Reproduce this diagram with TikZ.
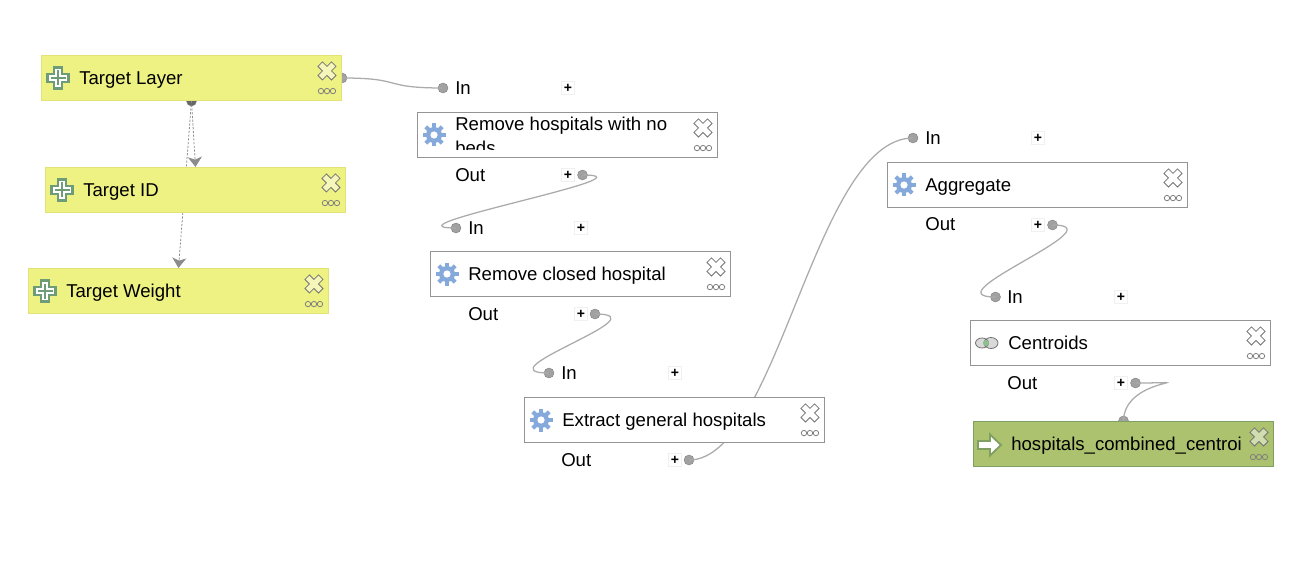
\documentclass[tikz,border=0pt]{standalone}
\usepackage{fontspec}
\setmainfont{Liberation Sans}
\usetikzlibrary{shapes, arrows.meta, calc, positioning, backgrounds}
\definecolor{inputfill}{HTML}{EEF283}
\definecolor{inputline}{HTML}{E2E276}
\definecolor{outputfill}{HTML}{ACC26E}
\definecolor{outputline}{HTML}{7FA062}
\definecolor{wirecol}{HTML}{ABABAB}
\definecolor{gearcol}{HTML}{86A9DC}
\definecolor{pluscol}{HTML}{6E9B78}
\tikzstyle{basebox} = [rectangle, draw, minimum width=225pt, minimum height=33.9pt, line width=0.7pt]
\tikzstyle{algbox} = [basebox, draw=black!42, fill=white]
\tikzstyle{inputbox} = [basebox, draw=inputline, fill=inputfill]
\tikzstyle{outputbox} = [basebox, draw=outputline, fill=outputfill]
\tikzstyle{boxtext} = [inner sep=0pt, font=\fontsize{13.95pt}{18pt}\selectfont, text height=10pt, text depth=0pt]
\tikzstyle{porttext} = [boxtext, anchor=west]
\tikzstyle{portdot} = [circle, draw=black!50, fill=black!37, inner sep=0pt, minimum size=7.5pt, line width=0.3pt]
\tikzstyle{portplus} = [rectangle, draw=black!6, fill=white, inner sep=0pt, minimum size=9.5pt, font=\bfseries\fontsize{10.5pt}{10pt}\selectfont]
\tikzstyle{wire} = [draw=wirecol, line width=0.95pt]
\tikzstyle{depwire} = [draw=black!45, dashed, dash pattern=on 1.6pt off 1.2pt, line width=0.6pt, -{Stealth[length=7.5pt,width=10.5pt,inset=2pt,fill=black!45]}]
\tikzset{
  delmark/.pic={\draw[draw=black!55, fill=white, fill opacity=0.45, line width=0.6pt, rotate=45] (-3.2,-9.6) -- (3.2,-9.6) -- (3.2,-3.2) -- (9.6,-3.2) -- (9.6,3.2) -- (3.2,3.2) -- (3.2,9.6) -- (-3.2,9.6) -- (-3.2,3.2) -- (-9.6,3.2) -- (-9.6,-3.2) -- (-3.2,-3.2) -- cycle;},
  moremark/.pic={\foreach \dx in {-6,0,6} \draw[draw=black!50, line width=0.6pt] (\dx,0) circle (2.7);},
  plusmark/.pic={\draw[draw=pluscol, fill=white, line width=1.6pt] (-3.8,-10.5) -- (3.8,-10.5) -- (3.8,-3.8) -- (10.5,-3.8) -- (10.5,3.8) -- (3.8,3.8) -- (3.8,10.5) -- (-3.8,10.5) -- (-3.8,3.8) -- (-10.5,3.8) -- (-10.5,-3.8) -- (-3.8,-3.8) -- cycle;
    \draw[draw=pluscol, line width=1.9pt] (-7.5,0) -- (7.5,0) (0,-7.5) -- (0,7.5);},
  gearmark/.pic={\foreach \ang in {0,45,...,315} \draw[draw=gearcol, line width=3pt, rotate=\ang] (0,0) -- (0,11.5);
    \fill[gearcol] (0,0) circle (8);
    \fill[white] (0,0) circle (3.6);},
  arrowmark/.pic={\draw[draw=outputline, fill=white, line width=1.4pt] (-11,-4) -- (1,-4) -- (1,-10.5) -- (12,0) -- (1,10.5) -- (1,4) -- (-11,4) -- cycle;},
  centroidmark/.pic={\draw[draw=black!55, fill=black!15, line width=0.6pt] (-5,0) ellipse (6.5 and 5) (4,0) ellipse (7 and 5.5);
    \fill[green!45!black!45] (-1,0) circle (3);},
}
\newcommand{\boxmarks}[1]{
  \pic at ([xshift=-11.25pt,yshift=-12pt]#1.north east) {delmark};
  \pic at ([xshift=-11.25pt,yshift=7.5pt]#1.south east) {moremark};
}
\begin{document}
\begin{tikzpicture}[x=0.75pt, y=-0.75pt]
\useasboundingbox (0,0) rectangle (1316,570);
% inputs
\node[inputbox](layer) at (191.5,78){};
\node[inputbox](targetid) at (195.5,190){};
\node[inputbox](weight) at (178.5,291){};
\node[boxtext, right=28.5pt of layer.west]{Target Layer};
\node[boxtext, right=28.5pt of targetid.west]{Target ID};
\node[boxtext, right=28.5pt of weight.west]{Target Weight};
\pic at (58,78) {plusmark};
\pic at (62,190) {plusmark};
\pic at (45,291) {plusmark};
\boxmarks{layer}
\boxmarks{targetid}
\boxmarks{weight}
% algorithms
\node[algbox](nobeds) at (567.5,135){};
\node[algbox](closed) at (580.5,274){};
\node[algbox](general) at (674.5,420){};
\node[algbox](aggregate) at (1037.5,185){};
\node[algbox](centroids) at (1120.5,343){};
\node[outputbox](result) at (1123.5,444){};
\begin{scope}
\clip (417,114) rectangle (718,150);
\node[boxtext, anchor=north west, align=left, text height=, text depth=] (nobedstext) at (455,116.5){Remove hospitals with no\\beds};
\end{scope}
\node[boxtext, right=28.5pt of closed.west]{Remove closed hospital};
\node[boxtext, right=28.5pt of general.west]{Extract general hospitals};
\node[boxtext, right=28.5pt of aggregate.west]{Aggregate};
\node[boxtext, right=28.5pt of centroids.west]{Centroids};
\node[boxtext, right=28.5pt of result.west]{hospitals\_combined\_centroi};
\pic at (434,135) {gearmark};
\pic at (447,274) {gearmark};
\pic at (541,420) {gearmark};
\pic at (904,185) {gearmark};
\pic at (987,343) {centroidmark};
\pic at (989,445) {arrowmark};
\boxmarks{nobeds}
\boxmarks{closed}
\boxmarks{general}
\boxmarks{aggregate}
\boxmarks{centroids}
\boxmarks{result}
% port labels
\node[porttext](in1) at (455,88){In};
\node[porttext](out1) at (455,175){Out};
\node[porttext](in2) at (468,228){In};
\node[porttext](out2) at (468,314){Out};
\node[porttext](in3) at (561,373){In};
\node[porttext](out3) at (561,460){Out};
\node[porttext](in4) at (925,138){In};
\node[porttext](out4) at (925,224){Out};
\node[porttext](in5) at (1007,297){In};
\node[porttext](out5) at (1007,383){Out};
\node[portplus](plusin1) at (568,88){+};
\node[portplus](plusout1) at (568,175){+};
\node[portplus](plusin2) at (581,228){+};
\node[portplus](plusout2) at (581,314){+};
\node[portplus](plusin3) at (675,373){+};
\node[portplus](plusout3) at (675,460){+};
\node[portplus](plusin4) at (1038,138){+};
\node[portplus](plusout4) at (1038,225){+};
\node[portplus](plusin5) at (1121,297){+};
\node[portplus](plusout5) at (1121,383){+};
% connectors stay behind the boxes
\begin{scope}[on background layer]
\node[portdot](layerout) at (layer.east){};
\node[portdot, fill=black!60](layerdep) at (layer.south){};
\node[portdot](resultin) at (result.north){};
\node[portdot](dotin1) at (443,88){};
\node[portdot](dotout1) at (582.5,175){};
\node[portdot](dotin2) at (456,228){};
\node[portdot](dotout2) at (595,314){};
\node[portdot](dotin3) at (549,373){};
\node[portdot](dotout3) at (689,460){};
\node[portdot](dotin4) at (913,138){};
\node[portdot](dotout4) at (1052.5,225){};
\node[portdot](dotin5) at (995.5,297){};
\node[portdot](dotout5) at (1135.5,383){};
\draw[wire] (layerout.center) .. controls (405,78) and (380,88) .. (dotin1.center);
\draw[wire] (dotout1.center) .. controls (662,175) and (376,228) .. (dotin2.center);
\draw[wire] (dotout2.center) .. controls (665,314) and (479,373) .. (dotin3.center);
\draw[wire] (dotout3.center) .. controls (778,460) and (815,138) .. (dotin4.center);
\draw[wire] (dotout4.center) .. controls (1120,225) and (928,297) .. (dotin5.center);
\draw[wire] (dotout5.center) .. controls (1212,383) and (1124,376) .. (resultin.center);
\draw[depwire] (layerdep.center) -- (targetid.north);
\draw[depwire] (layerdep.center) -- (weight.north);
\end{scope}
\end{tikzpicture}
\end{document}
